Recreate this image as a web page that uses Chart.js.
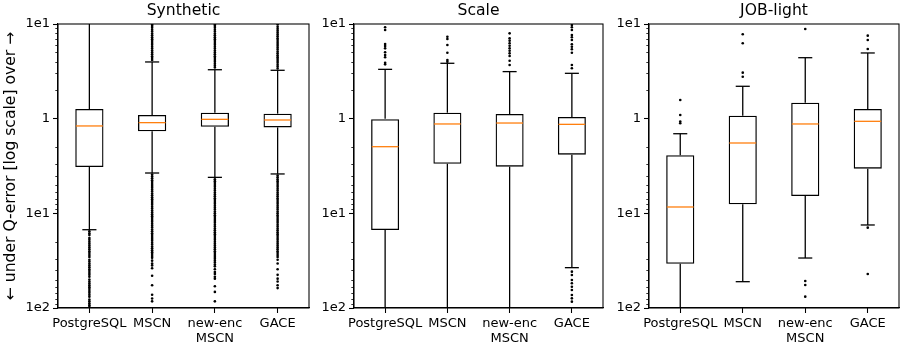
<!DOCTYPE html>
<html>
<head>
<meta charset="utf-8">
<script src="https://cdn.jsdelivr.net/npm/chart.js@4/dist/chart.umd.min.js"></script>
<style>
  html, body { margin: 0; padding: 0; background: #fff; }
  #wrap { position: relative; width: 901px; height: 347px; background: #fff; }
  canvas { position: absolute; top: 0; }
</style>
</head>
<body>
<div id="wrap">
  <canvas id="c0" width="312" height="347" style="left:0px"></canvas>
  <canvas id="c1" width="296" height="347" style="left:310px"></canvas>
  <canvas id="c2" width="295" height="347" style="left:606px"></canvas>
</div>
<script>
// Signed log10 q-error: positive = overestimation, negative = underestimation.
const categories = ['PostgreSQL', 'MSCN', ['new-enc', 'MSCN'], 'GACE'];
const yTicks = [-2, -1, 0, 1];
const yTickLabels = ['1e2', '1e1', '1', '1e1'];

// Synthetic workload
const synWhiskerLow  = [-1.173, -0.574, -0.620, -0.584];
const synQ1          = [-0.511, -0.134, -0.085, -0.092];
const synMedian      = [-0.077, -0.042, -0.007, -0.014];
const synQ3          = [0.102, 0.039, 0.063, 0.053];
const synWhiskerHigh = [1.4, 0.599, 0.517, 0.511];
const synOutliers = [
  [-1.19,-1.21,-1.23,-1.26,-1.28,-1.30,-1.32,-1.34,-1.36,-1.38,-1.40,-1.42,-1.44,-1.46,-1.49,-1.51,-1.53,-1.55,-1.57,-1.59,-1.61,-1.63,-1.65,-1.67,-1.70,-1.72,-1.74,-1.76,-1.78,-1.80,-1.82,-1.84,-1.86,-1.88,-1.91,-1.93,-1.95,-1.97,-1.99],
  [0.62,0.64,0.66,0.68,0.70,0.72,0.74,0.76,0.78,0.80,0.82,0.84,0.86,0.88,0.90,0.92,0.94,0.96,0.98,0.995,
   -0.59,-0.61,-0.63,-0.65,-0.67,-0.69,-0.71,-0.73,-0.75,-0.77,-0.79,-0.81,-0.83,-0.85,-0.87,-0.89,-0.91,-0.93,-0.95,-0.97,-0.99,-1.01,-1.03,-1.05,-1.07,-1.09,-1.11,-1.13,-1.15,-1.17,-1.19,-1.21,-1.23,-1.25,-1.27,-1.29,-1.31,-1.33,-1.35,-1.37,-1.39,-1.41,-1.43,-1.45,-1.47,-1.50,-1.53,-1.55,-1.58,-1.66,-1.76,-1.86,-1.90,-1.93],
  [0.54,0.56,0.58,0.60,0.62,0.64,0.66,0.68,0.70,0.72,0.74,0.76,0.78,0.80,0.82,0.84,0.86,0.88,0.90,0.92,0.94,0.96,0.98,0.995,
   -0.64,-0.66,-0.68,-0.70,-0.72,-0.74,-0.76,-0.78,-0.80,-0.82,-0.84,-0.86,-0.88,-0.90,-0.92,-0.94,-0.96,-0.98,-1.00,-1.02,-1.04,-1.06,-1.08,-1.10,-1.12,-1.14,-1.16,-1.18,-1.20,-1.22,-1.24,-1.26,-1.28,-1.30,-1.32,-1.34,-1.36,-1.38,-1.40,-1.42,-1.44,-1.46,-1.48,-1.50,-1.52,-1.54,-1.56,-1.59,-1.62,-1.64,-1.67,-1.69,-1.77,-1.83,-1.93],
  [0.53,0.55,0.57,0.59,0.61,0.63,0.65,0.67,0.69,0.71,0.73,0.75,0.77,0.79,0.81,0.83,0.85,0.87,0.89,0.91,0.93,0.95,0.97,0.995,
   -0.60,-0.62,-0.64,-0.66,-0.68,-0.70,-0.72,-0.74,-0.76,-0.78,-0.80,-0.82,-0.84,-0.86,-0.88,-0.90,-0.92,-0.94,-0.96,-0.98,-1.00,-1.02,-1.04,-1.06,-1.08,-1.10,-1.12,-1.14,-1.16,-1.18,-1.20,-1.22,-1.24,-1.26,-1.28,-1.30,-1.32,-1.34,-1.36,-1.38,-1.40,-1.42,-1.44,-1.46,-1.49,-1.53,-1.59,-1.65,-1.69,-1.72,-1.76,-1.79]
];

// Scale workload
const scaleWhiskerLow  = [-2.4, -2.4, -2.4, -1.574];
const scaleQ1          = [-1.176, -0.476, -0.507, -0.380];
const scaleMedian      = [-0.296, -0.056, -0.046, -0.060];
const scaleQ3          = [0.000, 0.063, 0.049, 0.018];
const scaleWhiskerHigh = [0.521, 0.585, 0.497, 0.479];
const scaleOutliers = [
  [0.965,0.937,0.789,0.768,0.743,0.701,0.673,0.648,0.591,0.574],
  [0.866,0.842,0.778,0.697,0.620,0.602],
  [0.901,0.849,0.824,0.796,0.771,0.743,0.718,0.690,0.662,0.612,0.567],
  [0.989,0.965,0.937,0.884,0.860,0.831,0.786,0.760,0.733,0.697,0.567,0.532,
   -1.616,-1.651,-1.704,-1.739,-1.775,-1.810,-1.863,-1.898,-1.933]
];

// JOB-light workload
const jobWhiskerLow  = [-2.4, -1.722, -1.472, -1.123];
const jobQ1          = [-1.532, -0.905, -0.817, -0.528];
const jobMedian      = [-0.933, -0.257, -0.056, -0.028];
const jobQ3          = [-0.387, 0.032, 0.169, 0.102];
const jobWhiskerHigh = [-0.159, 0.342, 0.644, 0.694];
const jobOutliers = [
  [0.197, 0.039, -0.030, -0.048],
  [0.891, 0.796, 0.486, 0.443],
  [0.947, -1.715, -1.757, -1.880],
  [0.877, 0.831, 0.736, -1.151, -1.641]
];

const FONT = "'DejaVu Sans', sans-serif";
const BLACK = '#000000';
const MEDIAN_COLOR = '#ff7f0e';

// Whiskers, caps, medians, minor ticks and the axes frame, positioned via the chart scales.
const boxPlotExtras = {
  id: 'boxPlotExtras',
  beforeDatasetsDraw(chart, args, opts) {
    const { ctx, chartArea: a, scales: { y } } = chart;
    const boxes = chart.getDatasetMeta(0).data;
    ctx.save();
    ctx.beginPath();
    ctx.rect(a.left, a.top, a.right - a.left, a.bottom - a.top);
    ctx.clip();
    ctx.strokeStyle = BLACK;
    ctx.lineWidth = 1.3;
    opts.lo.forEach((lo, i) => {
      const cx = boxes[i].x;
      const capHalf = boxes[i].width / 4;
      const segs = [[opts.q1[i], lo], [opts.q3[i], opts.hi[i]]];
      segs.forEach(([from, to]) => {
        ctx.beginPath();
        ctx.moveTo(cx, y.getPixelForValue(from));
        ctx.lineTo(cx, y.getPixelForValue(to));
        ctx.stroke();
        const cy = y.getPixelForValue(to);
        ctx.beginPath();
        ctx.moveTo(cx - capHalf, cy);
        ctx.lineTo(cx + capHalf, cy);
        ctx.stroke();
      });
    });
    ctx.restore();
  },
  afterDatasetsDraw(chart, args, opts) {
    const { ctx, scales: { y } } = chart;
    const boxes = chart.getDatasetMeta(0).data;
    ctx.save();
    ctx.strokeStyle = MEDIAN_COLOR;
    ctx.lineWidth = 1.3;
    opts.med.forEach((m, i) => {
      const cx = boxes[i].x;
      const half = boxes[i].width / 2 - 0.65;
      const py = y.getPixelForValue(m);
      ctx.beginPath();
      ctx.moveTo(cx - half, py);
      ctx.lineTo(cx + half, py);
      ctx.stroke();
    });
    ctx.restore();
  },
  afterDraw(chart) {
    const { ctx, chartArea: a, scales: { y } } = chart;
    ctx.save();
    // minor log ticks on the left axis
    ctx.strokeStyle = BLACK;
    ctx.lineWidth = 0.8;
    const minors = [];
    for (let k = 2; k <= 9; k++) {
      const d = Math.log10(k);
      minors.push(d, -d, -1 - d);
    }
    minors.forEach(v => {
      const py = Math.round(y.getPixelForValue(v)) + 0.5;
      ctx.beginPath();
      ctx.moveTo(a.left - 2.7, py);
      ctx.lineTo(a.left, py);
      ctx.stroke();
    });
    // axes frame
    ctx.lineWidth = 1.07;
    ctx.strokeRect(a.left, a.top, a.right - a.left, a.bottom - a.top);
    ctx.restore();
  }
};

const panels = [
  { title: 'Synthetic', lo: synWhiskerLow, q1: synQ1, med: synMedian, q3: synQ3, hi: synWhiskerHigh, out: synOutliers },
  { title: 'Scale', lo: scaleWhiskerLow, q1: scaleQ1, med: scaleMedian, q3: scaleQ3, hi: scaleWhiskerHigh, out: scaleOutliers },
  { title: 'JOB-light', lo: jobWhiskerLow, q1: jobQ1, med: jobMedian, q3: jobQ3, hi: jobWhiskerHigh, out: jobOutliers }
];
const yAxisWidths = [58, 44, 43];
const rightPads = [3, 3, 2];

panels.forEach((p, idx) => {
  const outlierPoints = [];
  p.out.forEach((vals, i) => vals.forEach(v => outlierPoints.push({ x: i, y: v })));

  new Chart(document.getElementById('c' + idx), {
    type: 'bar',
    data: {
      labels: categories,
      datasets: [
        {
          type: 'bar',
          data: p.q1.map((v, i) => [v, p.q3[i]]),
          backgroundColor: 'rgba(255,255,255,0)',
          borderColor: BLACK,
          borderWidth: 1.3,
          borderSkipped: false,
          grouped: false,
          barPercentage: 0.45,
          categoryPercentage: 1,
          xAxisID: 'x',
          yAxisID: 'y'
        },
        {
          type: 'scatter',
          data: outlierPoints,
          xAxisID: 'xo',
          yAxisID: 'y',
          pointRadius: 1.3,
          pointHoverRadius: 1.3,
          pointBackgroundColor: BLACK,
          pointBorderWidth: 0,
          showLine: false
        }
      ]
    },
    options: {
      responsive: false,
      animation: false,
      devicePixelRatio: 1,
      events: [],
      layout: { padding: { left: 0, right: rightPads[idx], top: 0, bottom: 0 } },
      plugins: {
        legend: { display: false },
        tooltip: { enabled: false },
        title: {
          display: true,
          fullSize: false,
          text: p.title,
          color: BLACK,
          font: { family: FONT, size: 15.6, weight: 'normal', lineHeight: 1.2 },
          padding: { top: 2, bottom: 3.28 }
        },
        boxPlotExtras: { lo: p.lo, q1: p.q1, med: p.med, q3: p.q3, hi: p.hi }
      },
      scales: {
        x: {
          type: 'category',
          offset: true,
          grid: { display: true, offset: false, drawOnChartArea: false, drawTicks: true, tickLength: 5, tickColor: BLACK, tickWidth: 1.07 },
          border: { display: true, color: BLACK, width: 1.07 },
          ticks: { color: BLACK, font: { family: FONT, size: 13, lineHeight: 1.15 }, padding: 3, autoSkip: false, maxRotation: 0, minRotation: 0 },
          afterFit(s) { s.height = 39; }
        },
        xo: {
          type: 'linear',
          position: 'bottom',
          min: -0.5,
          max: 3.5,
          offset: false,
          display: false,
          grid: { offset: false }
        },
        y: {
          type: 'linear',
          min: -2,
          max: 1,
          afterBuildTicks(s) { s.ticks = yTicks.map(v => ({ value: v })); },
          grid: { display: true, drawOnChartArea: false, drawTicks: true, tickLength: 5, tickColor: BLACK, tickWidth: 1.07 },
          border: { display: true, color: BLACK, width: 1.07 },
          ticks: {
            color: BLACK,
            font: { family: FONT, size: 13 },
            padding: 3,
            callback: v => yTickLabels[yTicks.indexOf(v)]
          },
          title: {
            display: idx === 0,
            text: '← under Q-error [log scale] over →',
            color: BLACK,
            font: { family: FONT, size: 15.6, lineHeight: 1.2 },
            padding: { top: 2, bottom: 0 }
          },
          afterFit(s) { s.width = yAxisWidths[idx]; }
        }
      }
    },
    plugins: [boxPlotExtras]
  });
});
</script>
</body>
</html>
